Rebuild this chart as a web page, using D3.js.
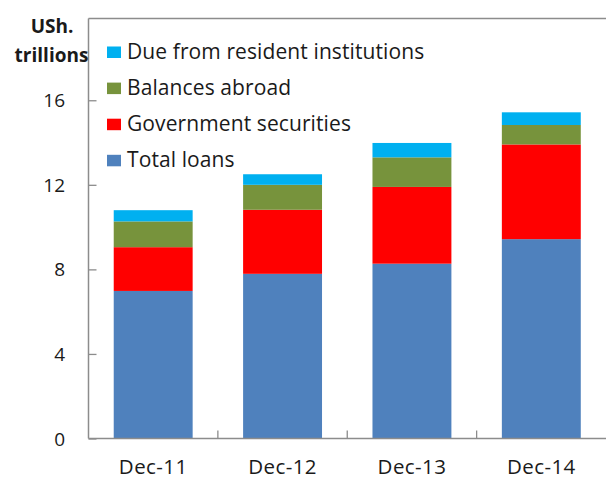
<!DOCTYPE html>
<html>
<head>
<meta charset="utf-8">
<script src="https://cdn.jsdelivr.net/npm/d3@7"></script>
<style>
  html, body { margin: 0; padding: 0; background: #fff; }
  svg { display: block; }
  text { font-family: "Open Sans", "Noto Sans", sans-serif; fill: #1a1a1a; }
</style>
</head>
<body>
<svg id="chart" width="606" height="479"></svg>
<script>
// Commercial bank assets, USh. trillions
const categories = ["Dec-11", "Dec-12", "Dec-13", "Dec-14"];
const seriesNames = ["Total loans", "Government securities", "Balances abroad", "Due from resident institutions"];
const totalLoans = [6.98, 7.79, 8.27, 9.43];
const governmentSecurities = [2.07, 3.03, 3.63, 4.48];
const balancesAbroad = [1.22, 1.18, 1.40, 0.92];
const dueFromResident = [0.53, 0.50, 0.68, 0.60];
const yTicks = [0, 4, 8, 12, 16];
const colors = ["#4F81BD", "#FF0000", "#77933C", "#00B0F0"];

const seriesValues = [totalLoans, governmentSecurities, balancesAbroad, dueFromResident];
const rows = categories.map((c, i) => {
  const r = { cat: c };
  seriesNames.forEach((s, j) => { r[s] = seriesValues[j][i]; });
  return r;
});

const svg = d3.select("#chart");
const plotLeft = 88.5, plotRight = 606, plotTop = 18.5, plotBottom = 438.5;

const x = d3.scaleBand().domain(categories).range([plotLeft, plotRight])
  .paddingInner(0.39).paddingOuter(0.195);
const y = d3.scaleLinear().domain([0, 20]).range([plotBottom, 15.7]);

const stack = d3.stack().keys(seriesNames)(rows);

svg.append("g").selectAll("g").data(stack).join("g")
  .attr("fill", (d, i) => colors[i])
  .selectAll("rect").data(d => d).join("rect")
  .attr("x", d => x(d.data.cat))
  .attr("width", x.bandwidth())
  .attr("y", d => y(d[1]))
  .attr("height", d => y(d[0]) - y(d[1]));

// frame: top border, left axis, bottom axis
const axisColor = "#8c8c8c";
svg.append("line").attr("x1", plotLeft).attr("x2", plotRight).attr("y1", plotTop).attr("y2", plotTop)
  .attr("stroke", axisColor).attr("stroke-width", 1.3);

const yAxis = svg.append("g").attr("transform", `translate(${plotLeft},0)`)
  .call(d3.axisRight(y).tickValues(yTicks).tickSize(8).tickFormat(""));
yAxis.select(".domain").attr("d", `M0,${plotTop}V${plotBottom}`)
  .attr("stroke", axisColor).attr("stroke-width", 1.5);
yAxis.selectAll(".tick line").attr("stroke", axisColor).attr("stroke-width", 1.3);

svg.append("g").selectAll("text").data(yTicks).join("text")
  .attr("x", 65).attr("y", d => y(d) + 7)
  .attr("text-anchor", "end").attr("font-size", 19)
  .text(d => d);

// category separators on the x axis, pointing up
const bounds = d3.range(1, categories.length).map(i => plotLeft + (plotRight - plotLeft) * i / categories.length);
svg.append("g").selectAll("line").data(bounds).join("line")
  .attr("x1", d => d).attr("x2", d => d).attr("y1", plotBottom).attr("y2", plotBottom - 8)
  .attr("stroke", axisColor).attr("stroke-width", 1.3);
svg.append("line").attr("x1", plotLeft).attr("x2", plotRight).attr("y1", plotBottom).attr("y2", plotBottom)
  .attr("stroke", axisColor).attr("stroke-width", 1.5);

svg.append("g").selectAll("text").data(categories).join("text")
  .attr("x", d => x(d) + x.bandwidth() / 2).attr("y", 473.5)
  .attr("text-anchor", "middle").attr("font-size", 20.5)
  .attr("letter-spacing", 0.4)
  .text(d => d);

// unit label
svg.append("text").attr("x", 52).attr("y", 33).attr("text-anchor", "middle")
  .attr("font-size", 19).attr("font-weight", "bold").text("USh.");
svg.append("text").attr("x", 51.5).attr("y", 62).attr("text-anchor", "middle")
  .attr("font-size", 19).attr("font-weight", "bold").text("trillions");

// legend, top series first
const legendItems = seriesNames.map((s, i) => ({ name: s, color: colors[i] })).reverse();
const legend = svg.append("g").selectAll("g").data(legendItems).join("g")
  .attr("transform", (d, i) => `translate(0,${58.5 + i * 36.1})`);
legend.append("rect").attr("x", 107).attr("y", -12).attr("width", 14).attr("height", 11.5)
  .attr("fill", d => d.color);
legend.append("text").attr("x", 127).attr("y", 0).attr("font-size", 21)
  .attr("letter-spacing", 0.1)
  .text(d => d.name);
</script>
</body>
</html>
